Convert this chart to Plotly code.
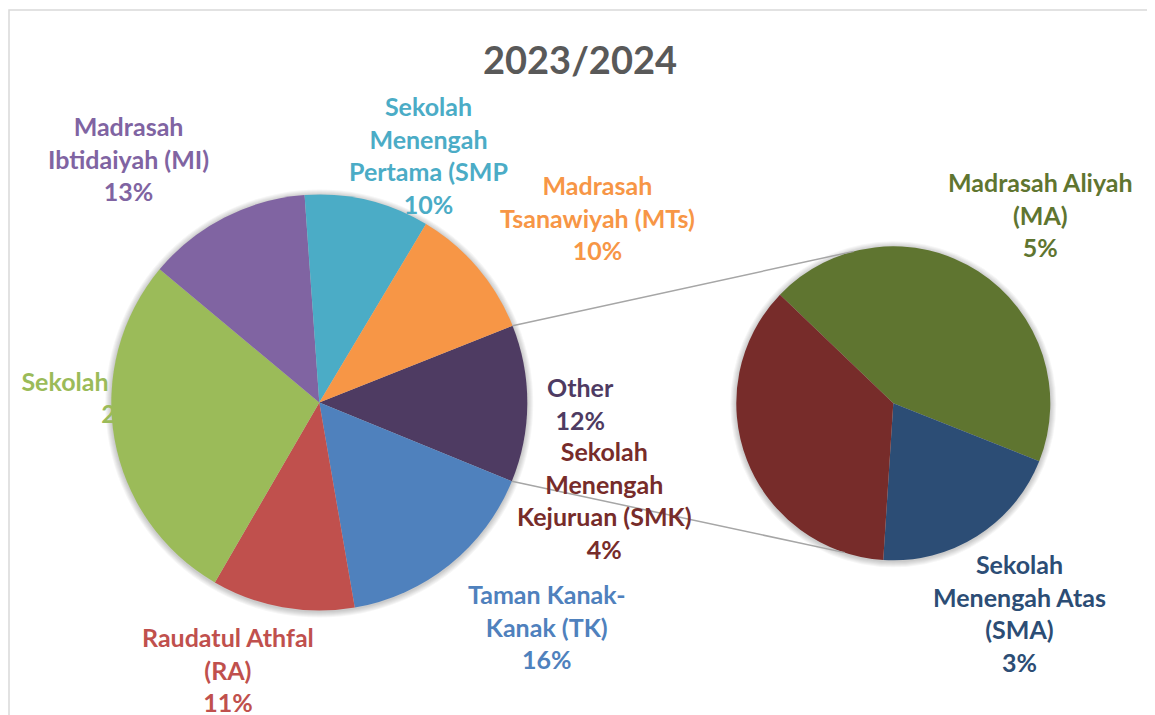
import math
import plotly.graph_objects as go

W, H = 1155, 715
OFF = 8  # page body margin: figure starts 8px from window corner

title_text = "2023/2024"

# Main pie (clockwise, starting with the "Other" slice)
main_names = ["Other", "Taman Kanak-<br>Kanak (TK)", "Raudatul Athfal<br>(RA)",
              "Sekolah Dasar (SD)", "Madrasah<br>Ibtidaiyah (MI)",
              "Sekolah<br>Menengah<br>Pertama (SMP", "Madrasah<br>Tsanawiyah (MTs)"]
main_values = [12.2, 16.1, 11.1, 27.7, 12.8, 9.7, 10.4]
main_pct = ["12%", "16%", "11%", "28%", "13%", "10%", "10%"]
main_colors = ["#4E3B62", "#4F81BD", "#C0504D", "#9BBB59", "#8064A2", "#4BACC6", "#F79646"]

# Secondary pie (breakdown of "Other")
sub_names = ["Madrasah Aliyah<br>(MA)", "Sekolah<br>Menengah Atas<br>(SMA)",
             "Sekolah<br>Menengah<br>Kejuruan (SMK)"]
sub_values = [5.35, 2.44, 4.41]
sub_pct = ["5%", "3%", "4%"]
sub_colors = ["#5F7530", "#2C4D75", "#772C2A"]

# ---- layout geometry (window pixels, top-left origin) ----
MC = (319.3, 402.6); MR = 208.0      # main pie centre / radius
SC = (893.3, 403.3); SR = 157.0      # secondary pie centre / radius
main_rot = 68.3                      # clockwise from 12 o'clock
sub_rot = -46.2

main_label_pos = [(580, 403.5), (546.5, 626), (227.5, 669), (126, 397),
                  (128, 158.5), (428, 155.5), (597, 217.7)]
sub_label_pos = [(1040, 214.7), (1019, 612.5), (604, 500)]

FONT = "Lato"
FS = 25


def px(x):
    return (x - OFF) / W


def py(y):
    return (H - (y - OFF)) / H


def dom(c, r):
    return dict(x=[px(c[0] - r), px(c[0] + r)], y=[py(c[1] + r), py(c[1] - r)])


fig = go.Figure()

# shadow-like halo behind pies
for c, r in [(MC, MR), (SC, SR)]:
    for k in range(1, 7):
        rr = r + k
        fig.add_shape(type="circle", xref="paper", yref="paper", layer="below",
                      x0=px(c[0] - rr), x1=px(c[0] + rr),
                      y0=py(c[1] + rr + 1), y1=py(c[1] - rr + 1),
                      fillcolor="rgba(0,0,0,0.035)", line=dict(width=0))

fig.add_trace(go.Pie(values=main_values, labels=[n.replace("<br>", " ") for n in main_names],
                     marker=dict(colors=main_colors, line=dict(width=0)),
                     sort=False, direction="clockwise", rotation=main_rot,
                     textinfo="none", hoverinfo="skip", domain=dom(MC, MR),
                     showlegend=False))
fig.add_trace(go.Pie(values=sub_values, labels=[n.replace("<br>", " ") for n in sub_names],
                     marker=dict(colors=sub_colors, line=dict(width=0)),
                     sort=False, direction="clockwise", rotation=sub_rot,
                     textinfo="none", hoverinfo="skip", domain=dom(SC, SR),
                     showlegend=False))

# connector lines between the "Other" slice and the secondary pie
a0 = math.radians(main_rot)
a1 = math.radians(main_rot + 360 * main_values[0] / sum(main_values))
p_top = (MC[0] + MR * math.sin(a0), MC[1] - MR * math.cos(a0))
p_bot = (MC[0] + MR * math.sin(a1), MC[1] - MR * math.cos(a1))
b0 = math.radians(-14.6)
b1 = math.radians(198.0)
q_top = (SC[0] + SR * math.sin(b0), SC[1] - SR * math.cos(b0))
q_bot = (SC[0] + SR * math.sin(b1), SC[1] - SR * math.cos(b1))
for p, q in [(p_top, q_top), (p_bot, q_bot)]:
    fig.add_shape(type="line", xref="paper", yref="paper",
                  x0=px(p[0]), y0=py(p[1]), x1=px(q[0]), y1=py(q[1]),
                  line=dict(color="#A6A6A6", width=1.5))

# data labels
for i, (name, pct, col, pos) in enumerate(zip(main_names, main_pct, main_colors, main_label_pos)):
    txt = f"<b>{name}<br>{pct}</b>"
    if i == 3:
        # this label sits behind the main pie (partially hidden)
        fig.add_shape(type="rect", xref="paper", yref="paper", layer="below",
                      x0=px(pos[0] - 120), x1=px(pos[0] + 120),
                      y0=py(pos[1] + 40), y1=py(pos[1] - 40),
                      line=dict(width=0), fillcolor="rgba(0,0,0,0)",
                      label=dict(text=txt, textposition="middle center",
                                 font=dict(family=FONT, size=FS, color=col)))
        continue
    fig.add_annotation(x=px(pos[0]), y=py(pos[1]), xref="paper", yref="paper",
                       text=txt, showarrow=False, xanchor="center", yanchor="middle",
                       align="center", font=dict(family=FONT, size=FS, color=col))
for name, pct, col, pos in zip(sub_names, sub_pct, sub_colors, sub_label_pos):
    fig.add_annotation(x=px(pos[0]), y=py(pos[1]), xref="paper", yref="paper",
                       text=f"<b>{name}<br>{pct}</b>", showarrow=False,
                       xanchor="center", yanchor="middle", align="center",
                       font=dict(family=FONT, size=FS, color=col))

# title
fig.add_annotation(x=px(580), y=py(59), xref="paper", yref="paper",
                   text=f"<b>{title_text}</b>", showarrow=False,
                   xanchor="center", yanchor="middle",
                   font=dict(family=FONT, size=38, color="#595959"))

# chart frame
fig.add_shape(type="rect", xref="paper", yref="paper", layer="above",
              x0=px(9), x1=px(1150), y0=-0.1, y1=py(10),
              line=dict(color="#D9D9D9", width=1.5), fillcolor="rgba(0,0,0,0)")

fig.update_layout(width=W, height=H, margin=dict(l=0, r=0, t=0, b=0),
                  paper_bgcolor="white", plot_bgcolor="white",
                  font=dict(family=FONT))

fig.write_html("out.html")
